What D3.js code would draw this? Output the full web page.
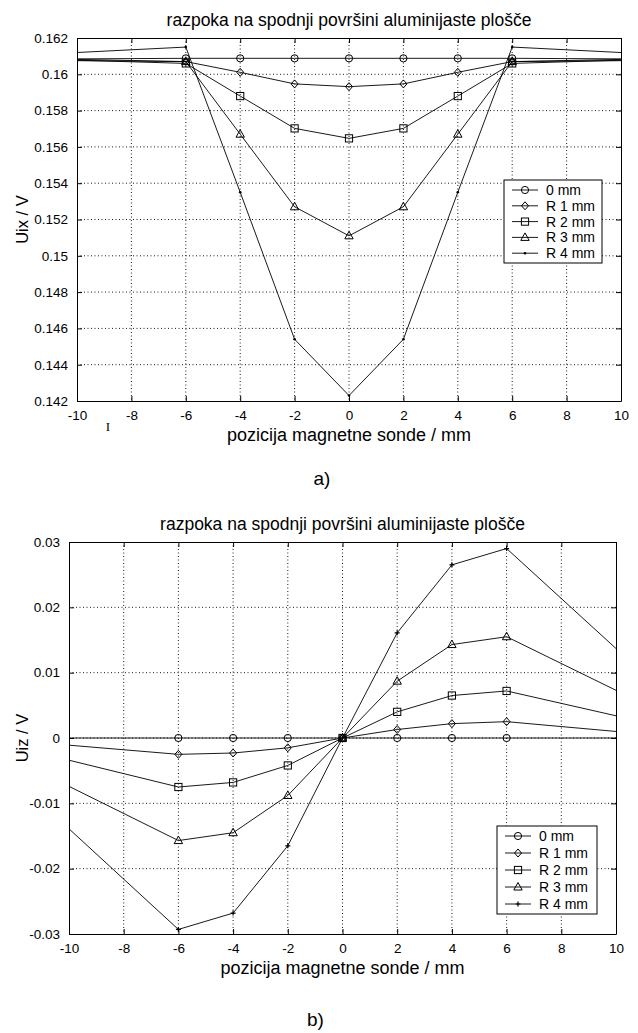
<!DOCTYPE html>
<html>
<head>
<meta charset="utf-8">
<script src="https://cdn.jsdelivr.net/npm/d3@7"></script>
<style>
  body { margin: 0; background: #fff; }
  svg { font-family: "Liberation Sans", Arial, sans-serif; }
</style>
</head>
<body>
<svg id="fig" width="638" height="1033"></svg>
<script>
const POSITIONS = [-10, -6, -4, -2, 0, 2, 4, 6, 10];
const SERIES = ["0 mm", "R 1 mm", "R 2 mm", "R 3 mm", "R 4 mm"];
const X_TICKS = [-10, -8, -6, -4, -2, 0, 2, 4, 6, 8, 10];

// panel a) Uix
const UIX_0 = [0.16085, 0.16088, 0.16088, 0.16088, 0.16088, 0.16088, 0.16088, 0.16088, 0.16085];
const UIX_R1 = [0.16082, 0.1607, 0.16011, 0.15947, 0.15932, 0.15947, 0.16011, 0.1607, 0.16082];
const UIX_R2 = [0.16078, 0.1606, 0.1588, 0.15702, 0.15647, 0.15702, 0.1588, 0.1606, 0.16078];
const UIX_R3 = [0.16075, 0.1607, 0.1567, 0.1527, 0.1511, 0.1527, 0.1567, 0.1607, 0.16075];
const UIX_R4 = [0.1612, 0.1615, 0.1535, 0.1454, 0.1423, 0.1454, 0.1535, 0.1615, 0.1612];
const UIX_TICKS = [0.142, 0.144, 0.146, 0.148, 0.15, 0.152, 0.154, 0.156, 0.158, 0.16, 0.162];

// panel b) Uiz
const UIZ_0 = [0, 0, 0, 0, 0, 0, 0, 0, 0];
const UIZ_R1 = [-0.0011, -0.0025, -0.0023, -0.0015, 0, 0.0013, 0.0022, 0.0025, 0.001];
const UIZ_R2 = [-0.0034, -0.0075, -0.0068, -0.0042, 0, 0.004, 0.0065, 0.0072, 0.0034];
const UIZ_R3 = [-0.0074, -0.0157, -0.0145, -0.0088, 0, 0.0087, 0.0143, 0.0155, 0.0073];
const UIZ_R4 = [-0.0139, -0.0293, -0.0268, -0.0165, 0, 0.0161, 0.0265, 0.029, 0.0137];
const UIZ_TICKS = [-0.03, -0.02, -0.01, 0, 0.01, 0.02, 0.03];

const svg = d3.select("#fig");

function marker(g, type, x, y) {
  if (type === "circle") {
    g.append("circle").attr("cx", x).attr("cy", y).attr("r", 3.6)
      .attr("fill", "none").attr("stroke", "#000");
  } else if (type === "diamond") {
    g.append("path").attr("d", `M${x},${y - 4}L${x + 3.5},${y}L${x},${y + 4}L${x - 3.5},${y}Z`)
      .attr("fill", "none").attr("stroke", "#000");
  } else if (type === "square") {
    g.append("rect").attr("x", x - 3.6).attr("y", y - 3.6).attr("width", 7.2).attr("height", 7.2)
      .attr("fill", "none").attr("stroke", "#000");
  } else if (type === "triangle") {
    g.append("path").attr("d", `M${x},${y - 4.5}L${x + 4.2},${y + 3}L${x - 4.2},${y + 3}Z`)
      .attr("fill", "none").attr("stroke", "#000");
  } else if (type === "plus") {
    g.append("path").attr("d", `M${x - 2.5},${y}H${x + 2.5}M${x},${y - 2.5}V${y + 2.5}`)
      .attr("stroke", "#000").attr("stroke-width", 1.2);
  } else if (type === "dot") {
    g.append("circle").attr("cx", x).attr("cy", y).attr("r", 1.3).attr("fill", "#000");
  }
}

function panel(opt) {
  const { box, yDomain, yTicks, yFmt, series, markers, title, ylabel, tag, tagY, legend } = opt;
  const x = d3.scaleLinear().domain([-10, 10]).range([box.left, box.right]);
  const y = d3.scaleLinear().domain(yDomain).range([box.bottom, box.top]);
  const g = svg.append("g");

  // grid
  g.append("g").selectAll("line").data(X_TICKS.slice(1, -1)).join("line")
    .attr("x1", d => x(d)).attr("x2", d => x(d)).attr("y1", box.top).attr("y2", box.bottom)
    .attr("stroke", "#000").attr("stroke-width", 0.9).attr("stroke-dasharray", "1,2.5");
  g.append("g").selectAll("line").data(yTicks.slice(1, -1)).join("line")
    .attr("y1", d => y(d)).attr("y2", d => y(d)).attr("x1", box.left).attr("x2", box.right)
    .attr("stroke", "#000").attr("stroke-width", 0.9).attr("stroke-dasharray", "1,2.5");

  // axes with inward ticks
  const ax = (axis, tr) => {
    const a = g.append("g").attr("transform", tr).call(axis);
    a.select(".domain").attr("stroke", "#000");
    a.selectAll(".tick line").attr("stroke", "#000");
    a.selectAll("text").attr("fill", "#000").attr("font-size", 13.5);
    return a;
  };
  ax(d3.axisBottom(x).tickValues(X_TICKS).tickSizeInner(-5).tickSizeOuter(0).tickPadding(9)
    .tickFormat(d => String(d)), `translate(0,${box.bottom})`);
  ax(d3.axisTop(x).tickValues(X_TICKS).tickSizeInner(-5).tickSizeOuter(0).tickFormat(""),
    `translate(0,${box.top})`);
  ax(d3.axisLeft(y).tickValues(yTicks).tickSizeInner(-5).tickSizeOuter(0).tickPadding(9)
    .tickFormat(yFmt), `translate(${box.left},0)`);
  ax(d3.axisRight(y).tickValues(yTicks).tickSizeInner(-5).tickSizeOuter(0).tickFormat(""),
    `translate(${box.right},0)`);

  // series
  const line = d3.line().x((d, i) => x(POSITIONS[i])).y(d => y(d));
  series.forEach((vals, k) => {
    g.append("path").attr("d", line(vals)).attr("fill", "none")
      .attr("stroke", "#000").attr("stroke-width", 0.9);
    const mg = g.append("g");
    vals.forEach((v, i) => {
      if (Math.abs(POSITIONS[i]) < 10) marker(mg, markers[k], x(POSITIONS[i]), y(v));
    });
  });

  // legend
  const lg = g.append("g");
  lg.append("rect").attr("x", legend.x).attr("y", legend.y).attr("width", legend.w)
    .attr("height", legend.h).attr("fill", "#fff").attr("stroke", "#000");
  SERIES.forEach((name, k) => {
    const ry = legend.y + legend.pad + k * legend.row;
    lg.append("line").attr("x1", legend.x + 8).attr("x2", legend.x + 34)
      .attr("y1", ry).attr("y2", ry).attr("stroke", "#000").attr("stroke-width", 0.9);
    marker(lg, markers[k], legend.x + 21, ry);
    lg.append("text").attr("x", legend.x + 42).attr("y", ry + 5)
      .attr("font-size", 14).text(name);
  });

  // labels
  const cx = (box.left + box.right) / 2;
  g.append("text").attr("x", cx).attr("y", box.top - 12).attr("text-anchor", "middle")
    .attr("font-size", 17.5).text(title);
  g.append("text").attr("x", cx).attr("y", box.bottom + 40).attr("text-anchor", "middle")
    .attr("font-size", 18).text("pozicija magnetne sonde / mm");
  g.append("text").attr("transform", `translate(28,${(box.top + box.bottom) / 2}) rotate(-90)`)
    .attr("text-anchor", "middle").attr("font-size", 16.5).text(ylabel);
  g.append("text").attr("x", cx - 27).attr("y", tagY).attr("text-anchor", "middle")
    .attr("font-size", 19).text(tag);
}

const fmt = d => String(+d.toFixed(3));

panel({
  box: { left: 77, right: 621, top: 38, bottom: 401 },
  yDomain: [0.142, 0.162], yTicks: UIX_TICKS, yFmt: fmt,
  series: [UIX_0, UIX_R1, UIX_R2, UIX_R3, UIX_R4],
  markers: ["circle", "diamond", "square", "triangle", "dot"],
  title: "razpoka na spodnji površini aluminijaste plošče",
  ylabel: "Uix / V", tag: "a)", tagY: 485,
  legend: { x: 504, y: 180, w: 98, h: 83, pad: 10, row: 15.8 }
});

panel({
  box: { left: 69, right: 616, top: 542, bottom: 934 },
  yDomain: [-0.03, 0.03], yTicks: UIZ_TICKS, yFmt: fmt,
  series: [UIZ_0, UIZ_R1, UIZ_R2, UIZ_R3, UIZ_R4],
  markers: ["circle", "diamond", "square", "triangle", "plus"],
  title: "razpoka na spodnji površini aluminijaste plošče",
  ylabel: "Uiz / V", tag: "b)", tagY: 1026,
  legend: { x: 497, y: 826, w: 100, h: 88, pad: 10, row: 17 }
});

// scanning artefact below the first axis
svg.append("text").attr("x", 108).attr("y", 431).attr("text-anchor", "middle")
  .attr("font-family", "Liberation Serif, serif").attr("font-size", 13).text("I");
</script>
</body>
</html>
